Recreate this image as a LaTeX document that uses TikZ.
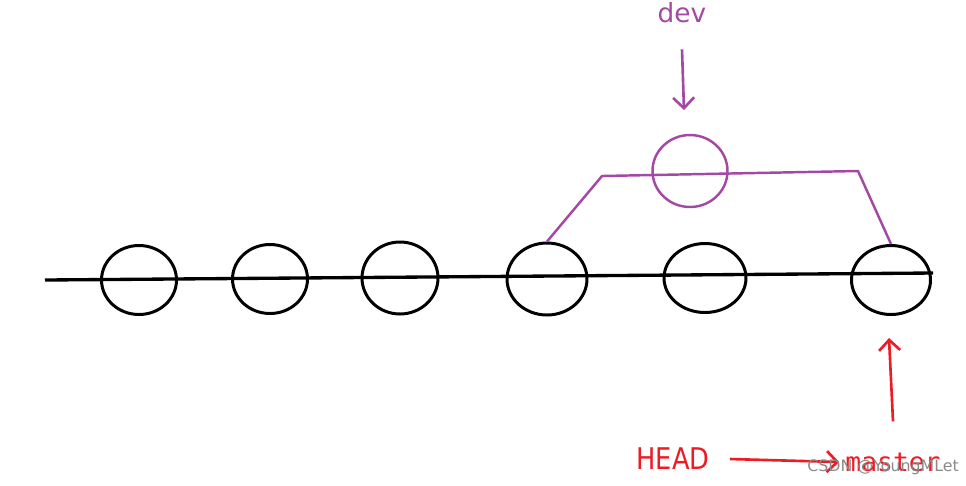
\documentclass[tikz,border=0pt]{standalone}
\usepackage{fontspec}
\setmainfont{DejaVu Sans}
\newfontfamily\monofont{DejaVu Sans Mono}
\usetikzlibrary{shapes.geometric, arrows.meta, positioning}
\definecolor{paintpurple}{HTML}{A349A4}
\definecolor{paintred}{HTML}{ED1C24}
\definecolor{markgray}{HTML}{8A8A8A}

\begin{document}
\begin{tikzpicture}[x=0.02cm, y=-0.02cm,
  commit/.style={ellipse, draw=black, line width=1.7pt, inner sep=0pt,
                 minimum width=1.5cm, minimum height=1.38cm},
  devcommit/.style={commit, draw=paintpurple, line width=1.4pt},
  mainline/.style={black, line width=1.9pt},
  branchline/.style={paintpurple, line width=1.4pt},
  ptr/.style={-{Straight Barb[length=6pt, width=12pt]}, line width=1.5pt},
]
  \useasboundingbox (0,0) rectangle (966,485);

  % commits on master
  \node[commit] (c1) at (139,280) {};
  \node[commit] (c2) at (270,279) {};
  \node[commit, minimum width=1.52cm, minimum height=1.44cm] (c3) at (400,278) {};
  \node[commit, minimum width=1.6cm, minimum height=1.44cm] (c4) at (547,279) {};
  \node[commit, minimum width=1.64cm] (c5) at (705,278) {};
  \node[commit, minimum width=1.58cm] (c6) at (891,280) {};

  \coordinate (lstart) at (45,280);
  \coordinate (lend) at (933,273);
  \draw[mainline] (lstart) -- (lend);

  % dev branch
  \node[devcommit, minimum height=1.44cm] (cd) at (690,171) {};
  \coordinate (bl) at (602,176);
  \coordinate (br) at (858,171);
  \draw[branchline] (c4.north) -- (bl) -- (br) -- (c6.north);

  % labels
  \node[text=paintpurple, font=\fontsize{15}{18}\selectfont] (dev) at (682,13) {dev};
  \coordinate (devtip) at (684,110);
  \draw[ptr, paintpurple] ([yshift=-0.4cm]dev.south) -- (devtip);

  \node[text=paintred, font=\fontsize{17}{20}\selectfont, xscale=0.86] (head) at (673,459) {HEAD};
  \node[text=paintred, font=\monofont\fontsize{15}{18}\selectfont] (master) at (893,462) {master};
  \draw[ptr, paintred] ([xshift=0.3cm]head.east) -- (master.west);
  \coordinate (mtip) at (889,338);
  \draw[ptr, paintred] ([yshift=0.5cm]master.north) -- (mtip);

  \node[text=markgray, font=\fontsize{9}{11}\selectfont] (mark) at (883,467) {CSDN @YoungMLet};
\end{tikzpicture}
\end{document}
